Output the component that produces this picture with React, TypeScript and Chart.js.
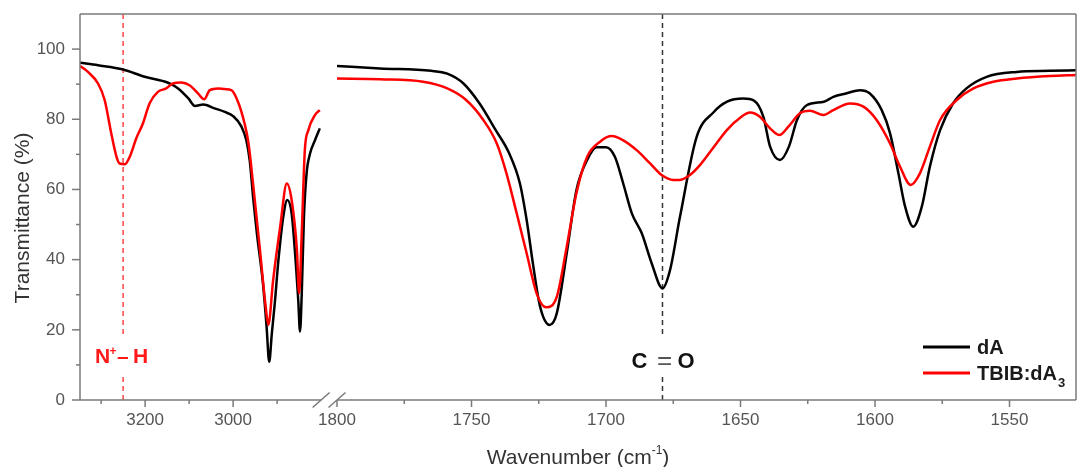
import React, { useEffect, useRef } from 'react';
import { Chart, registerables } from 'chart.js';

Chart.register(...registerables);

// ---- data: [wavenumber (cm-1), transmittance (%)] ----
const dALeft: [number, number][] = [
  [3348, 96.1], [3307, 95.4], [3250, 94.2], [3201, 92.1], [3148, 90.4], [3125, 88.8],
  [3102, 86.0], [3087, 83.8], [3068, 84.2], [3042, 83.1], [3019, 82.1], [3000, 80.9],
  [2981, 77.9], [2970, 74.0], [2962, 68.0], [2954, 57.0], [2946, 47.5], [2932, 33.0],
  [2924, 21.0], [2918, 10.9], [2912, 19.0], [2905, 28.0], [2897, 39.9], [2886, 52.2],
  [2877, 57.0], [2867, 53.2], [2857, 38.0], [2852, 28.5], [2848, 19.5], [2844, 30.4],
  [2839, 52.2], [2833, 64.6], [2825, 70.3], [2814, 74.0], [2803, 77.4],
];

const dARight: [number, number][] = [
  [1800, 95.2], [1784, 94.5], [1765, 93.8], [1759, 93.0], [1753, 90.2], [1747, 84.5],
  [1741, 76.9], [1736, 70.3], [1732, 61.7], [1729.5, 51.3], [1727, 38.0], [1724.5, 26.6],
  [1721, 21.4], [1718.3, 24.7], [1714.6, 41.8], [1711, 59.8], [1707, 68.4], [1703.5, 72.0],
  [1700, 72.0], [1696.7, 69.3], [1693.6, 61.7], [1690.4, 53.2], [1686.7, 47.5], [1683, 38.9],
  [1679, 31.8], [1676.2, 37.0], [1672.5, 52.2], [1666.3, 75.0], [1660, 82.0], [1655, 85.0],
  [1649, 85.9], [1645, 85.3], [1641.5, 80.7], [1639, 72.2], [1635.3, 68.4], [1632, 72.2],
  [1629, 79.8], [1625.4, 84.0], [1619, 85.0], [1615.5, 86.4], [1610.5, 87.4], [1605.6, 88.3],
  [1602, 87.4], [1597.5, 82.6], [1594.4, 76.0], [1591.3, 64.6], [1588.8, 55.1], [1585.8, 49.4],
  [1582.6, 55.1], [1579.6, 66.5], [1575.8, 76.9], [1571, 84.5], [1566, 88.8], [1558.5, 92.1],
  [1547.3, 93.5], [1535, 93.8], [1525, 94.0],
];

const tbibLeft: [number, number][] = [
  [3348, 95.2], [3330, 93.5], [3307, 90.2], [3292, 85.5], [3277, 76.0], [3265, 69.3],
  [3258, 67.4], [3246, 67.2], [3235, 69.3], [3220, 74.6], [3205, 78.8], [3190, 84.5],
  [3171, 87.8], [3152, 88.8], [3137, 90.2], [3118, 90.5], [3099, 89.7], [3080, 87.4],
  [3066, 85.7], [3053, 88.3], [3034, 88.8], [3019, 88.6], [3004, 88.3], [2989, 85.0],
  [2974, 78.8], [2965, 73.1], [2954, 60.8], [2939, 42.7], [2926, 26.6], [2920, 21.4],
  [2909, 34.2], [2893, 49.4], [2878, 61.7], [2867, 57.0], [2855, 42.7], [2850, 30.4],
  [2844, 47.6], [2837, 71.2], [2829, 76.9], [2814, 81.2], [2803, 82.6],
];

const tbibRight: [number, number][] = [
  [1800, 91.6], [1784, 91.4], [1768, 90.7], [1759, 88.8], [1752, 85.5], [1745.6, 79.8],
  [1740.6, 73.1], [1737, 64.6], [1733.2, 53.2], [1729.5, 41.8], [1725.8, 30.4], [1722.3, 26.4],
  [1718.3, 29.4], [1714.6, 43.7], [1711, 58.9], [1707, 69.3], [1702.2, 73.6], [1697.9, 75.2],
  [1693.6, 74.0], [1688.6, 71.2], [1683.6, 67.4], [1679.3, 64.1], [1675, 62.7], [1672.5, 62.7],
  [1668.8, 64.1], [1665, 67.0], [1660, 72.0], [1655, 77.0], [1650, 80.5], [1646.5, 81.9],
  [1642.8, 80.7], [1639, 77.4], [1635.6, 75.5], [1632.2, 77.9], [1627.9, 81.7], [1624.2, 82.4],
  [1619.2, 81.2], [1615.5, 82.6], [1609.3, 84.5], [1604.3, 83.6], [1599.4, 79.8], [1594.4, 73.1],
  [1590.7, 66.5], [1586.7, 61.3], [1583.3, 64.6], [1579.6, 72.2], [1575.8, 79.8], [1569.6, 85.5],
  [1563.4, 88.8], [1556, 90.7], [1547.3, 91.6], [1535, 92.3], [1525, 92.6],
];

const xTicksLeft = [3200, 3000];
const xTicksRight = [1800, 1750, 1700, 1650, 1600, 1550];
const xMinorLeft = [3300, 3100, 2900];
const xMinorRight = [1775, 1725, 1675, 1625, 1575];
const yTicks = [0, 20, 40, 60, 80, 100];
const yMinor = [10, 30, 50, 70, 90];
const markerNH = 3250;
const markerCO = 1679;
const seriesNames = ['dA', 'TBIB:dA'];
const leftEnd = 2800;
const rightStart = 1800;

// ---- broken-axis transform (wavenumber -> axis units) ----
const LEFT_START = 3348;
const LEFT_SCALE = 0.44;
const RIGHT_OFFSET = 257;
const RIGHT_SCALE = 2.69;
const toU = (w: number) =>
  w > 2000 ? (LEFT_START - w) * LEFT_SCALE : RIGHT_OFFSET + (rightStart - w) * RIGHT_SCALE;

const xMajor = [...xTicksLeft, ...xTicksRight];

const buildSeries = (left: [number, number][], right: [number, number][]) => [
  ...left.map(([w, t]) => ({ x: toU(w), y: t })),
  { x: (toU(leftEnd) + toU(rightStart)) / 2, y: null as any },
  ...right.map(([w, t]) => ({ x: toU(w), y: t })),
];

const FONT = "'Liberation Sans', Arial, sans-serif";
const AXIS = '#7a7a7a';

const decorPlugin = {
  id: 'decor',
  beforeDatasetsDraw(chart: any) {
    const { ctx, chartArea: ca, scales } = chart;
    const x = scales.x;
    ctx.save();
    ctx.lineWidth = 1.5;
    ctx.setLineDash([5, 4]);
    const dash = (px: number, color: string) => {
      ctx.strokeStyle = color;
      ctx.beginPath();
      ctx.moveTo(px, ca.top);
      ctx.lineTo(px, 338);
      ctx.moveTo(px, 377);
      ctx.lineTo(px, ca.bottom);
      ctx.stroke();
    };
    dash(x.getPixelForValue(toU(markerNH)), '#ff4545');
    dash(x.getPixelForValue(toU(markerCO)), '#333333');
    ctx.restore();
  },
  afterDraw(chart: any) {
    const { ctx, chartArea: ca, scales } = chart;
    const x = scales.x;
    const y = scales.y;
    ctx.save();
    ctx.strokeStyle = AXIS;
    ctx.lineWidth = 1.5;
    const line = (x1: number, y1: number, x2: number, y2: number) => {
      ctx.beginPath();
      ctx.moveTo(x1, y1);
      ctx.lineTo(x2, y2);
      ctx.stroke();
    };
    // frame
    line(ca.left, ca.top, ca.right, ca.top);
    line(ca.right, ca.top, ca.right, ca.bottom);
    line(ca.left, ca.top, ca.left, ca.bottom);
    const b1 = x.getPixelForValue(toU(leftEnd));
    const b2 = x.getPixelForValue(toU(rightStart));
    line(ca.left, ca.bottom, b1, ca.bottom);
    line(b2, ca.bottom, ca.right, ca.bottom);
    // break marks
    [b1, b2].forEach((bx) => line(bx - 8.5, ca.bottom + 7.5, bx + 8.5, ca.bottom - 7.5));
    // x ticks
    xMajor.forEach((w) => {
      const px = x.getPixelForValue(toU(w));
      line(px, ca.bottom, px, ca.bottom + 7);
    });
    [...xMinorLeft, ...xMinorRight].forEach((w) => {
      const px = x.getPixelForValue(toU(w));
      line(px, ca.bottom, px, ca.bottom + 4);
    });
    // y ticks
    yTicks.forEach((v) => {
      const py = y.getPixelForValue(v);
      line(ca.left - 8, py, ca.left, py);
    });
    yMinor.forEach((v) => {
      const py = y.getPixelForValue(v);
      line(ca.left - 4, py, ca.left, py);
    });

    // axis titles
    ctx.fillStyle = '#333333';
    ctx.font = `21px ${FONT}`;
    ctx.save();
    ctx.translate(28.5, 218);
    ctx.rotate(-Math.PI / 2);
    ctx.textAlign = 'center';
    ctx.textBaseline = 'alphabetic';
    ctx.fillText('Transmittance (%)', 0, 0);
    ctx.restore();

    const t1 = 'Wavenumber (cm';
    const sup = '-1';
    const t2 = ')';
    ctx.textAlign = 'left';
    ctx.textBaseline = 'alphabetic';
    ctx.font = `21px ${FONT}`;
    const w1 = ctx.measureText(t1).width;
    const w3 = ctx.measureText(t2).width;
    ctx.font = `12px ${FONT}`;
    const w2 = ctx.measureText(sup).width;
    const total = w1 + w2 + w3;
    let tx = (ca.left + ca.right) / 2 - total / 2;
    const tb = 464;
    ctx.font = `21px ${FONT}`;
    ctx.fillText(t1, tx, tb);
    tx += w1;
    ctx.font = `12px ${FONT}`;
    ctx.fillText(sup, tx, tb - 10);
    tx += w2;
    ctx.font = `21px ${FONT}`;
    ctx.fillText(t2, tx, tb);

    // N+ - H label
    const nhx = x.getPixelForValue(toU(markerNH));
    ctx.fillStyle = '#ff1a1a';
    ctx.font = `bold 21px ${FONT}`;
    ctx.fillText('N', nhx - 28, 362.5);
    ctx.font = `bold 12px ${FONT}`;
    ctx.fillText('+', nhx - 13.5, 355);
    ctx.font = `bold 21px ${FONT}`;
    ctx.fillText('–', nhx - 6, 362.5);
    ctx.fillText('H', nhx + 10, 362.5);

    // C = O label
    const cox = x.getPixelForValue(toU(markerCO));
    ctx.fillStyle = '#111111';
    ctx.font = `bold 22px ${FONT}`;
    ctx.fillText('C', cox - 31, 367.5);
    ctx.fillText('O', cox + 15, 367.5);
    ctx.fillStyle = '#555555';
    ctx.font = `26px ${FONT}`;
    ctx.textAlign = 'center';
    ctx.fillText('=', cox + 2, 369);
    ctx.textAlign = 'left';

    // legend
    const lx1 = 923;
    const lx2 = 970;
    const rows = [
      { y: 347, color: '#000000' },
      { y: 373, color: '#ff0000' },
    ];
    ctx.lineWidth = 3;
    rows.forEach((r) => {
      ctx.strokeStyle = r.color;
      line(lx1, r.y, lx2, r.y);
    });
    ctx.fillStyle = '#1a1a1a';
    ctx.font = `bold 20px ${FONT}`;
    ctx.textBaseline = 'middle';
    ctx.fillText(seriesNames[0], 977, 348);
    ctx.fillText(seriesNames[1], 977, 374);
    const lw = ctx.measureText(seriesNames[1]).width;
    ctx.font = `bold 13px ${FONT}`;
    ctx.textBaseline = 'alphabetic';
    ctx.fillText('3', 977 + lw + 1, 387);
    ctx.restore();
  },
};

export default function App() {
  const ref = useRef<HTMLCanvasElement>(null);
  useEffect(() => {
    const canvas = ref.current;
    if (!canvas) return;
    const chart = new Chart(canvas, {
      type: 'line',
      data: {
        datasets: [
          {
            label: seriesNames[0],
            data: buildSeries(dALeft, dARight),
            borderColor: '#000000',
            borderWidth: 2.5,
            pointRadius: 0,
            cubicInterpolationMode: 'monotone',
            spanGaps: false,
            fill: false,
            order: 2,
          },
          {
            label: seriesNames[1] + '3',
            data: buildSeries(tbibLeft, tbibRight),
            borderColor: '#ff0000',
            borderWidth: 2.5,
            pointRadius: 0,
            cubicInterpolationMode: 'monotone',
            spanGaps: false,
            fill: false,
            order: 1,
          },
        ],
      } as any,
      options: {
        animation: false,
        responsive: false,
        devicePixelRatio: 1,
        layout: { padding: { top: 14, right: 1, left: 0, bottom: 0 } },
        plugins: { legend: { display: false }, tooltip: { enabled: false } },
        scales: {
          x: {
            type: 'linear',
            min: 0,
            max: 996,
            grid: { display: false, drawTicks: false },
            border: { display: false },
            afterBuildTicks: (s: any) => {
              s.ticks = xMajor.map((w) => ({ value: toU(w) }));
            },
            afterFit: (s: any) => {
              s.height = 67;
              s.paddingLeft = 0;
              s.paddingRight = 0;
            },
            ticks: {
              autoSkip: false,
              maxRotation: 0,
              padding: 10,
              color: '#555555',
              font: { family: FONT, size: 17 },
              callback: (_v: any, i: number) => String(xMajor[i]),
            },
          },
          y: {
            type: 'linear',
            min: 0,
            max: 110,
            grid: { display: false, drawTicks: false },
            border: { display: false },
            afterBuildTicks: (s: any) => {
              s.ticks = yTicks.map((v) => ({ value: v }));
            },
            afterFit: (s: any) => {
              s.width = 80;
              s.paddingTop = 0;
              s.paddingBottom = 0;
            },
            ticks: {
              padding: 15,
              color: '#555555',
              font: { family: FONT, size: 17 },
            },
          },
        },
      } as any,
      plugins: [decorPlugin],
    });
    return () => chart.destroy();
  }, []);
  return (
    <div style={{ position: 'fixed', left: 0, top: 0, width: 1077, height: 467, background: '#ffffff' }}>
      <canvas ref={ref} width={1077} height={467} style={{ width: 1077, height: 467 }} />
    </div>
  );
}
